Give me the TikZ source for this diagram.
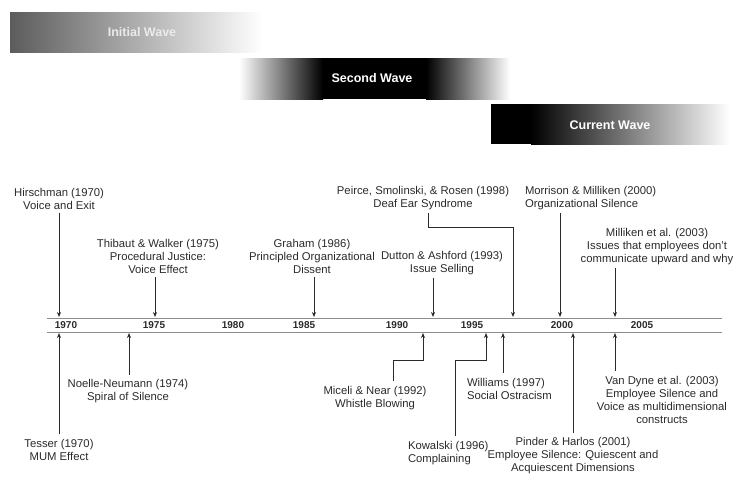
\documentclass[tikz,border=0pt]{standalone}
\usepackage{fontspec}
\setmainfont{Liberation Sans}
\usetikzlibrary{arrows.meta}
\definecolor{inkgray}{HTML}{2A2A2A}
\definecolor{axisgray}{HTML}{8C8C8C}

\begin{document}
\begin{tikzpicture}[x=1pt, y=-1pt,
    lbl/.style={font=\fontsize{11.3}{13}\selectfont, text=inkgray, align=center, inner sep=0pt},
    toplbl/.style={lbl, outer sep=3pt},
    botlbl/.style={lbl, outer sep=5pt},
    yearlbl/.style={font=\fontsize{10}{12}\selectfont\bfseries, text=inkgray, inner sep=0pt},
    wavelbl/.style={font=\fontsize{12.5}{14}\selectfont\bfseries, text=white},
    arr/.style={-{Stealth[length=5pt,width=4pt]}, inkgray, line width=0.7pt}]

    \useasboundingbox (0,0) rectangle (734,477);

    % Wave bars
    \shade[left color=black!64, right color=white] (10,12) rectangle (262,52);
    \node[wavelbl, text=white!92!black] (wave1) at (142,32) {Initial Wave};

    \shade[left color=white, right color=black] (239,58) rectangle (323,99);
    \fill[black] (323,58) rectangle (426,99);
    \shade[left color=black, right color=white] (426,58) rectangle (510,99);
    \node[wavelbl] (wave2) at (372,78) {Second Wave};

    \fill[black] (491,104) rectangle (531,144);
    \shade[left color=black, right color=white] (531,104) rectangle (730,144);
    \node[wavelbl] (wave3) at (610,125) {Current Wave};

    % Draw the timeline
    \draw[axisgray, line width=0.9pt] (47,318) -- (722,318);
    \draw[axisgray, line width=0.9pt] (47,332) -- (722,332);
    \foreach \yr/\xx in {1970/66, 1975/154, 1980/233, 1985/304, 1990/397, 1995/472, 2000/562, 2005/642} {
        \node[yearlbl] (y\yr) at (\xx,325) {\yr};
    }

    % Arrow tips on the timeline
    \foreach \name/\xx in {hirsch/59, thibaut/155, graham/314, dutton/433, peirce/513, morrison/560, milliken/615} {
        \coordinate (tip-\name) at (\xx,317);
    }
    \foreach \name/\xx in {tesser/59, noelle/129, miceli/423, kowalski/486, williams/503, pinder/573, vandyne/615} {
        \coordinate (tip-\name) at (\xx,333);
    }
    \coordinate (kink-peirce) at (428,227);
    \coordinate (kink-miceli) at (393,360);
    \coordinate (kink-kowalski) at (455,360);

    % Studies above the timeline
    \node[toplbl] (hirsch) at (59,199) {Hirschman (1970)\\Voice and Exit};
    \node[toplbl] (thibaut) at (158,256.5) {Thibaut \& Walker (1975)\\Procedural Justice:\\Voice Effect};
    \node[toplbl] (graham) at (312,256.5) {Graham (1986)\\Principled Organizational\\Dissent};
    \node[toplbl] (dutton) at (442,263) {Dutton \& Ashford (1993)\\Issue Selling};
    \node[toplbl] (peirce) at (423,198) {Peirce, Smolinski, \& Rosen (1998)\\Deaf Ear Syndrome};
    \node[toplbl, align=left, anchor=west] (morrison) at (522,198) {Morrison \& Milliken (2000)\\Organizational Silence};
    \node[toplbl] (milliken) at (657,247) {Milliken et al. (2003)\\Issues that employees don't\\communicate upward and why};

    \foreach \name in {hirsch, thibaut, graham, dutton, morrison, milliken} {
        \draw[arr] (\name.south -| tip-\name) -- (tip-\name);
    }
    \draw[arr] (peirce.south -| kink-peirce) -- (kink-peirce) -| (tip-peirce);

    % Studies below the timeline
    \node[botlbl] (tesser) at (59,450) {Tesser (1970)\\MUM Effect};
    \node[botlbl] (noelle) at (128,391.5) {Noelle-Neumann (1974)\\Spiral of Silence};
    \node[botlbl] (miceli) at (375,398) {Miceli \& Near (1992)\\Whistle Blowing};
    \node[botlbl, align=left, anchor=west] (kowalski) at (403,453) {Kowalski (1996)\\Complaining};
    \node[botlbl, align=left, anchor=west] (williams) at (462,388.5) {Williams (1997)\\Social Ostracism};
    \node[botlbl] (pinder) at (573,456) {Pinder \& Harlos (2001)\\Employee Silence: Quiescent and\\Acquiescent Dimensions};
    \node[botlbl] (vandyne) at (662,399.5) {Van Dyne et al. (2003)\\Employee Silence and\\Voice as multidimensional\\constructs};

    \foreach \name in {tesser, noelle, williams, pinder, vandyne} {
        \draw[arr] (\name.north -| tip-\name) -- (tip-\name);
    }
    \draw[arr] (miceli.north -| kink-miceli) -- (kink-miceli) -| (tip-miceli);
    \draw[arr] (kowalski.north -| kink-kowalski) -- (kink-kowalski) -| (tip-kowalski);
\end{tikzpicture}
\end{document}
